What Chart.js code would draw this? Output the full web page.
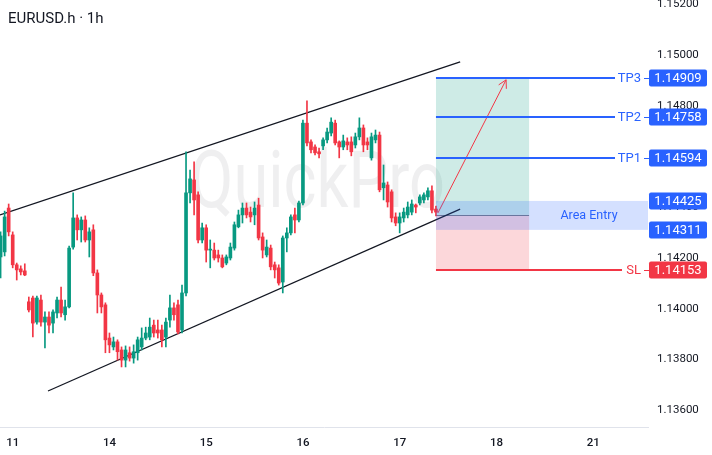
<!DOCTYPE html>
<html>
<head>
<meta charset="utf-8">
<script src="https://cdn.jsdelivr.net/npm/chart.js@4.4.1/dist/chart.umd.min.js"></script>
<style>
  html, body { margin: 0; padding: 0; background: #fff; }
  #wrap { position: relative; width: 712px; height: 455px; }
  #titulo { position: absolute; left: 8px; top: 9px; font: 15px Roboto, sans-serif; line-height: 18px; color: #131722; }
</style>
</head>
<body>
<div id="wrap">
  <canvas id="grafico" width="712" height="455"></canvas>
  <div id="titulo">EURUSD.h · 1h</div>
</div>
<script>
// Velas de 1h (uma por barra, a partir da primeira visível)
const opens = [
  1.14204, 1.14224, 1.14397, 1.14291, 1.14173, 1.14157, 1.14149, 1.14027, 1.14042, 1.13947,
  1.14034, 1.13947, 1.13967, 1.13943, 1.13983, 1.14034, 1.13976, 1.14007, 1.14243, 1.14358,
  1.14311, 1.14350, 1.14271, 1.14311, 1.14141, 1.14054, 1.14015, 1.13884, 1.13849, 1.13869,
  1.13837, 1.13797, 1.13826, 1.13805, 1.13826, 1.13849, 1.13884, 1.13888, 1.13935, 1.13916,
  1.13916, 1.13888, 1.13955, 1.14003, 1.14015, 1.13916, 1.14062, 1.14457, 1.14508, 1.14449,
  1.14271, 1.14319, 1.14231, 1.14231, 1.14212, 1.14200, 1.14180, 1.14200, 1.14239, 1.14323,
  1.14370, 1.14397, 1.14381, 1.14370, 1.14409, 1.14283, 1.14212, 1.14239, 1.14173, 1.14161,
  1.14105, 1.14279, 1.14299, 1.14370, 1.14350, 1.14417, 1.14732, 1.14658, 1.14638, 1.14619,
  1.14642, 1.14666, 1.14693, 1.14732, 1.14658, 1.14638, 1.14658, 1.14658, 1.14646, 1.14678,
  1.14713, 1.14658, 1.14595, 1.14666, 1.14685, 1.14477, 1.14488, 1.14461, 1.14362, 1.14338,
  1.14358, 1.14370, 1.14381, 1.14409, 1.14417, 1.14429, 1.14441, 1.14465, 1.14393
];
const highs = [
  1.14303, 1.14385, 1.14413, 1.14303, 1.14180, 1.14169, 1.14177, 1.14046, 1.14050, 1.14050,
  1.14054, 1.13987, 1.13987, 1.13995, 1.14046, 1.14085, 1.14034, 1.14247, 1.14457, 1.14370,
  1.14362, 1.14366, 1.14319, 1.14331, 1.14153, 1.14062, 1.14023, 1.13904, 1.13888, 1.13877,
  1.13849, 1.13853, 1.13849, 1.13857, 1.13888, 1.13924, 1.13927, 1.13963, 1.13955, 1.13955,
  1.13935, 1.13963, 1.14054, 1.14023, 1.14034, 1.14093, 1.14619, 1.14547, 1.14579, 1.14461,
  1.14338, 1.14331, 1.14271, 1.14259, 1.14231, 1.14212, 1.14212, 1.14259, 1.14342, 1.14389,
  1.14417, 1.14417, 1.14401, 1.14421, 1.14436, 1.14299, 1.14271, 1.14251, 1.14184, 1.14173,
  1.14287, 1.14319, 1.14370, 1.14397, 1.14425, 1.14744, 1.14820, 1.14666, 1.14646, 1.14634,
  1.14674, 1.14713, 1.14753, 1.14744, 1.14662, 1.14685, 1.14674, 1.14678, 1.14693, 1.14753,
  1.14725, 1.14674, 1.14693, 1.14705, 1.14697, 1.14567, 1.14500, 1.14469, 1.14378, 1.14378,
  1.14397, 1.14421, 1.14429, 1.14413, 1.14449, 1.14457, 1.14477, 1.14485, 1.14405
];
const lows = [
  1.14121, 1.14208, 1.14287, 1.14161, 1.14113, 1.14133, 1.14130, 1.13987, 1.13888, 1.13939,
  1.13931, 1.13845, 1.13904, 1.13904, 1.13963, 1.13967, 1.13955, 1.14003, 1.14235, 1.14271,
  1.14263, 1.14263, 1.14204, 1.14130, 1.13983, 1.13983, 1.13826, 1.13826, 1.13837, 1.13797,
  1.13770, 1.13770, 1.13793, 1.13785, 1.13797, 1.13837, 1.13877, 1.13877, 1.13888, 1.13884,
  1.13849, 1.13849, 1.13927, 1.13955, 1.13900, 1.13904, 1.14050, 1.14417, 1.14370, 1.14259,
  1.14259, 1.14184, 1.14161, 1.14192, 1.14184, 1.14161, 1.14173, 1.14192, 1.14231, 1.14319,
  1.14338, 1.14358, 1.14342, 1.14331, 1.14271, 1.14200, 1.14204, 1.14153, 1.14121, 1.14093,
  1.14062, 1.14224, 1.14291, 1.14299, 1.14342, 1.14409, 1.14642, 1.14615, 1.14607, 1.14595,
  1.14627, 1.14654, 1.14682, 1.14646, 1.14595, 1.14627, 1.14627, 1.14603, 1.14634, 1.14666,
  1.14619, 1.14627, 1.14586, 1.14654, 1.14461, 1.14429, 1.14401, 1.14342, 1.14327, 1.14299,
  1.14342, 1.14358, 1.14370, 1.14378, 1.14409, 1.14417, 1.14429, 1.14378, 1.14366
];
const closes = [
  1.14287, 1.14362, 1.14303, 1.14173, 1.14153, 1.14145, 1.14133, 1.13995, 1.13943, 1.14042,
  1.13947, 1.13967, 1.13935, 1.13987, 1.14034, 1.13983, 1.14007, 1.14239, 1.14358, 1.14311,
  1.14350, 1.14271, 1.14303, 1.14141, 1.14054, 1.14007, 1.13877, 1.13857, 1.13869, 1.13830,
  1.13797, 1.13837, 1.13805, 1.13830, 1.13877, 1.13884, 1.13904, 1.13927, 1.13904, 1.13904,
  1.13877, 1.13947, 1.14003, 1.13976, 1.13908, 1.14062, 1.14457, 1.14512, 1.14429, 1.14271,
  1.14319, 1.14231, 1.14235, 1.14200, 1.14200, 1.14165, 1.14204, 1.14243, 1.14331, 1.14370,
  1.14397, 1.14370, 1.14362, 1.14397, 1.14279, 1.14231, 1.14243, 1.14165, 1.14153, 1.14101,
  1.14279, 1.14299, 1.14362, 1.14350, 1.14417, 1.14732, 1.14654, 1.14627, 1.14615, 1.14611,
  1.14666, 1.14697, 1.14736, 1.14654, 1.14638, 1.14662, 1.14646, 1.14619, 1.14678, 1.14713,
  1.14646, 1.14646, 1.14678, 1.14685, 1.14469, 1.14496, 1.14421, 1.14358, 1.14338, 1.14362,
  1.14381, 1.14401, 1.14413, 1.14401, 1.14441, 1.14449, 1.14465, 1.14389, 1.14381
];

// Eixo do tempo: barra onde começa cada dia
const dayLabels = ['11', '14', '15', '16', '17', '18', '21'];
const dayBars = [3, 27, 51, 75, 99, 123, 147];

// Canal (linhas de tendência)
const channelTopX = [-0.15, 114.0];
const channelTopY = [1.14370, 1.14974];
const channelBottomX = [11.76, 114.0];
const channelBottomY = [1.13675, 1.14393];

// Ferramenta de posição
const positionBars = [108.0, 131.1];
const entryPrice = 1.14370;
const entryZone = [1.14311, 1.14425];
const levelNames = ['TP3', 'TP2', 'TP1', 'SL'];
const levelPrices = [1.14909, 1.14758, 1.14594, 1.14153];
const arrowX = [108.5, 125.4];
const arrowY = [1.14378, 1.14903];

const VERDE = '#089981';
const VERMELHO = '#f23645';
const AZUL = '#2962ff';

const barras = opens.map((_, i) => i);
const corVela = barras.map(i => closes[i] >= opens[i] ? VERDE : VERMELHO);

function caixa(ctx, x, y, w, h, r) {
    ctx.beginPath();
    ctx.moveTo(x + r, y);
    ctx.lineTo(x + w - r, y);
    ctx.quadraticCurveTo(x + w, y, x + w, y + r);
    ctx.lineTo(x + w, y + h - r);
    ctx.quadraticCurveTo(x + w, y + h, x + w - r, y + h);
    ctx.lineTo(x + r, y + h);
    ctx.quadraticCurveTo(x, y + h, x, y + h - r);
    ctx.lineTo(x, y + r);
    ctx.quadraticCurveTo(x, y, x + r, y);
    ctx.closePath();
}

function etiqueta(ctx, yPix, texto, cor) {
    ctx.fillStyle = cor;
    caixa(ctx, 649, Math.round(yPix) - 8.5, 58, 17, 2);
    ctx.fill();
    ctx.fillStyle = '#ffffff';
    ctx.font = '13px Roboto';
    ctx.textAlign = 'center';
    ctx.textBaseline = 'middle';
    ctx.fillText(texto, 678, Math.round(yPix) + 0.5);
}

const desenho = {
    id: 'desenho',
    beforeDatasetsDraw(chart) {
        const {ctx, scales: {x, y}} = chart;
        ctx.save();
        // marca d'água
        ctx.font = '80px Roboto';
        const w = ctx.measureText('QuickPro').width;
        ctx.fillStyle = 'rgba(120,123,134,0.12)';
        ctx.textBaseline = 'alphabetic';
        ctx.translate(190, 207);
        ctx.scale(255 / w, 1);
        ctx.fillText('QuickPro', 0, 0);
        ctx.restore();

        // zonas de lucro / risco
        ctx.save();
        const xa = x.getPixelForValue(positionBars[0]);
        const xb = x.getPixelForValue(positionBars[1]);
        const yE = y.getPixelForValue(entryPrice);
        const yT = y.getPixelForValue(levelPrices[0]);
        const yS = y.getPixelForValue(levelPrices[3]);
        ctx.fillStyle = 'rgba(8,153,129,0.2)';
        ctx.fillRect(xa, yT, xb - xa, yE - yT);
        ctx.fillStyle = 'rgba(242,54,69,0.2)';
        ctx.fillRect(xa, yE, xb - xa, yS - yE);
        ctx.strokeStyle = '#787b86';
        ctx.lineWidth = 1;
        ctx.beginPath();
        ctx.moveTo(xa, Math.round(yE) + 0.5);
        ctx.lineTo(xb, Math.round(yE) + 0.5);
        ctx.stroke();
        ctx.restore();
    },
    afterDatasetsDraw(chart) {
        const {ctx, chartArea, scales: {x, y}} = chart;
        ctx.save();
        const xa = x.getPixelForValue(positionBars[0]);

        // área de entrada
        const yz1 = y.getPixelForValue(entryZone[1]);
        const yz0 = y.getPixelForValue(entryZone[0]);
        ctx.fillStyle = 'rgba(41,98,255,0.2)';
        ctx.fillRect(xa, yz1, chartArea.right - xa, yz0 - yz1);
        ctx.fillStyle = AZUL;
        ctx.font = '12.5px Roboto';
        ctx.textAlign = 'center';
        ctx.textBaseline = 'middle';
        ctx.fillText('Area Entry', 589, (yz0 + yz1) / 2 + 0.5);

        // níveis TP / SL
        levelNames.forEach((nome, k) => {
            const cor = nome === 'SL' ? VERMELHO : AZUL;
            const yl = Math.round(y.getPixelForValue(levelPrices[k]));
            ctx.strokeStyle = cor;
            ctx.lineWidth = 2;
            ctx.beginPath();
            ctx.moveTo(xa, yl);
            ctx.lineTo(nome === 'SL' ? 622 : 615, yl);
            ctx.stroke();
            ctx.fillStyle = cor;
            ctx.font = '13px Roboto';
            ctx.textAlign = 'right';
            ctx.textBaseline = 'middle';
            ctx.fillText(nome, 641, yl + 0.5);
            ctx.lineWidth = 1;
            ctx.beginPath();
            ctx.moveTo(644, yl + 0.5);
            ctx.lineTo(649, yl + 0.5);
            ctx.stroke();
            etiqueta(ctx, yl, levelPrices[k].toFixed(5), cor);
        });
        etiqueta(ctx, yz1, entryZone[1].toFixed(5), AZUL);
        etiqueta(ctx, yz0, entryZone[0].toFixed(5), AZUL);

        // ponta da seta
        const x0 = x.getPixelForValue(arrowX[0]), y0 = y.getPixelForValue(arrowY[0]);
        const x1 = x.getPixelForValue(arrowX[1]), y1 = y.getPixelForValue(arrowY[1]);
        const ang = Math.atan2(y1 - y0, x1 - x0);
        ctx.strokeStyle = VERMELHO;
        ctx.lineWidth = 1;
        ctx.beginPath();
        ctx.moveTo(x1 - 9 * Math.cos(ang - 0.5), y1 - 9 * Math.sin(ang - 0.5));
        ctx.lineTo(x1, y1);
        ctx.lineTo(x1 - 9 * Math.cos(ang + 0.5), y1 - 9 * Math.sin(ang + 0.5));
        ctx.stroke();
        ctx.restore();
    }
};

document.addEventListener('DOMContentLoaded', function() {
    const ctx = document.getElementById('grafico');
    new Chart(ctx, {
        type: 'bar',
        data: {
            datasets: [
                {
                    type: 'bar',
                    data: barras.map(i => ({x: i, y: [opens[i], closes[i]]})),
                    backgroundColor: corVela,
                    barThickness: 3,
                    minBarLength: 1,
                    grouped: false,
                    borderWidth: 0
                },
                {
                    type: 'bar',
                    data: barras.map(i => ({x: i, y: [lows[i], highs[i]]})),
                    backgroundColor: corVela,
                    barThickness: 1,
                    grouped: false,
                    borderWidth: 0
                },
                {
                    type: 'line',
                    data: channelTopX.map((v, k) => ({x: v, y: channelTopY[k]})),
                    borderColor: '#131722',
                    borderWidth: 1.3,
                    pointRadius: 0
                },
                {
                    type: 'line',
                    data: channelBottomX.map((v, k) => ({x: v, y: channelBottomY[k]})),
                    borderColor: '#131722',
                    borderWidth: 1.3,
                    pointRadius: 0
                },
                {
                    type: 'line',
                    data: arrowX.map((v, k) => ({x: v, y: arrowY[k]})),
                    borderColor: VERMELHO,
                    borderWidth: 1,
                    pointRadius: 0
                }
            ]
        },
        options: {
            responsive: false,
            animation: false,
            layout: { padding: 0 },
            plugins: {
                legend: { display: false },
                tooltip: { enabled: false }
            },
            scales: {
                x: {
                    type: 'linear',
                    min: -0.15,
                    max: 160.6,
                    offset: false,
                    grid: { display: false, offset: false, drawTicks: false },
                    border: { display: true, color: '#e0e3eb', width: 1 },
                    afterBuildTicks: scale => { scale.ticks = dayBars.map(v => ({value: v})); },
                    afterFit: scale => { scale.height = 28; scale.paddingLeft = 0; scale.paddingRight = 0; },
                    ticks: {
                        autoSkip: false,
                        maxRotation: 0,
                        minRotation: 0,
                        padding: 9,
                        color: '#131722',
                        font: { family: 'Roboto', size: 11.5, weight: '500' },
                        callback: value => dayLabels[dayBars.indexOf(value)] || ''
                    }
                },
                y: {
                    type: 'linear',
                    position: 'right',
                    min: 1.13533,
                    max: 1.15218,
                    beginAtZero: false,
                    grid: { display: false, drawTicks: false },
                    border: { display: false },
                    afterFit: scale => { scale.width = 64; scale.paddingTop = 0; scale.paddingBottom = 0; },
                    ticks: {
                        stepSize: 0.002,
                        includeBounds: false,
                        padding: 9,
                        color: '#131722',
                        font: { family: 'Roboto', size: 11.5 },
                        callback: value => value.toFixed(5)
                    }
                }
            }
        },
        plugins: [desenho]
    });
});
</script>
</body>
</html>
